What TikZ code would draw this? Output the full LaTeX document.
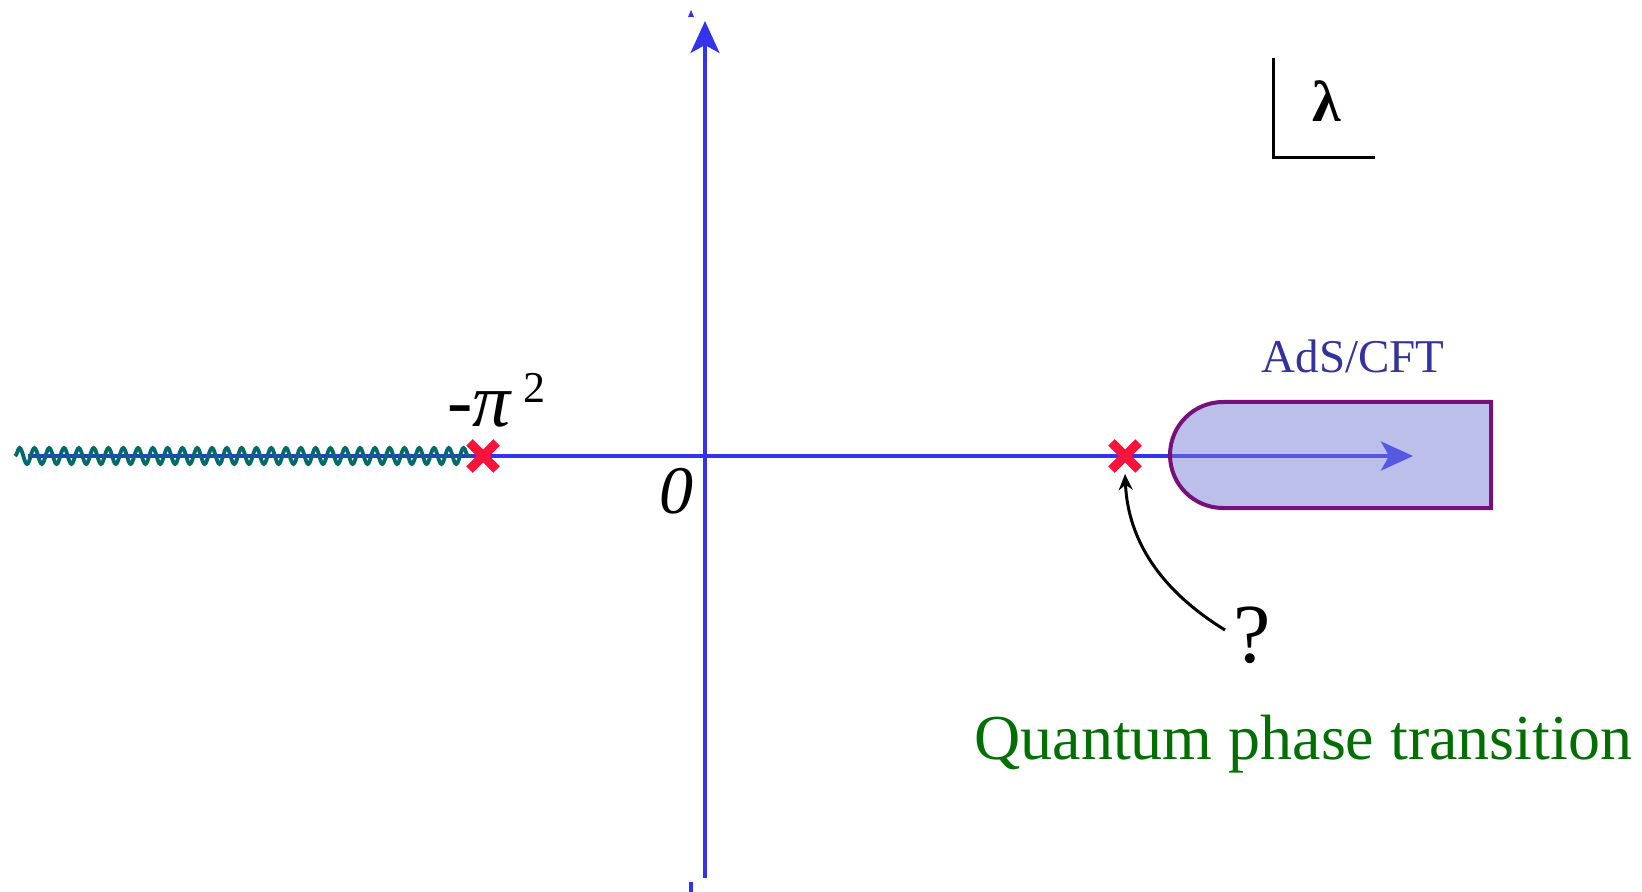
\documentclass[tikz,border=0pt]{standalone}
\usepackage{fontspec}
\setmainfont{Liberation Serif}
\usetikzlibrary{arrows.meta,decorations.pathmorphing,shapes.misc}
\definecolor{axisblue}{RGB}{51,51,238}
\definecolor{wigteal}{RGB}{0,105,105}
\definecolor{xred}{RGB}{250,20,60}
\definecolor{regionfill}{RGB}{119,127,213}
\definecolor{regionborder}{RGB}{119,17,119}
\definecolor{adsblue}{RGB}{51,51,153}
\definecolor{qgreen}{RGB}{0,110,0}
\begin{document}
\begin{tikzpicture}[x=0.5pt,y=-0.5pt,
  axis/.style={draw=axisblue, line width=1.8pt},
  wig/.style={draw=wigteal, line width=1.9pt, decorate, decoration={snake, segment length=7.4pt, amplitude=4pt}},
  xmark/.style={cross out, draw=xred, line width=4.6pt, minimum size=9pt, inner sep=0pt},
  region/.style={fill=regionfill, fill opacity=0.5},
  regionline/.style={draw=regionborder, line width=2pt},
  lbl/.style={inner sep=0pt},
  tipA/.style={-{Stealth[length=16pt,width=14.5pt,inset=4pt]}}
]
\useasboundingbox (0,0) rectangle (1642,892);
% axes
\coordinate (xl) at (28,456);
\coordinate (xr) at (1413,456);
\coordinate (yb) at (705,878);
\coordinate (yt) at (705,21);
\draw[axis, tipA] (xl) -- (xr);
\draw[axis, tipA] (yb) -- (yt);
% stray marks
\fill[axisblue] (691,10) -- (694,17) -- (688,17) -- cycle;
\draw[axisblue, line width=2pt] (691,882) -- (691,892);
% branch cut
\coordinate (wl) at (15,456);
\coordinate (wr) at (470,456);
\draw[wig] (wl) -- (wr);
% AdS/CFT region
\path[region] (1491,402) -- (1223,402) arc (270:90:53) -- (1491,508) -- cycle;
\draw[regionline] (1491,402) -- (1223,402) arc (270:90:53) -- (1491,508) -- cycle;
% crosses
\node[xmark] (m1) at (483,456) {};
\node[xmark] (m2) at (1125,456) {};
% labels
\node[lbl, anchor=base west, font=\fontsize{38}{44}\selectfont\itshape] (pi) at (447,427) {-π\,\raisebox{12pt}{\upshape\fontsize{22}{22}\selectfont 2}};
\node[lbl, anchor=base, font=\fontsize{34}{40}\selectfont\itshape] (zero) at (676,513) {0};
\node[lbl, anchor=base, font=\fontsize{23.5}{28}\selectfont, text=adsblue] (ads) at (1353,373) {AdS/CFT};
\node[lbl, anchor=base, font=\fontsize{42}{50}\selectfont] (q) at (1252,662) {?};
\node[lbl, anchor=base west, font=\fontsize{32}{38}\selectfont, text=qgreen] (qpt) at (974,759) {Quantum phase transition};
\node[lbl, anchor=base, font=\fontsize{29}{34}\selectfont\bfseries] (lam) at (1327,122) {λ};
% lambda corner
\coordinate (ct) at (1273,58);
\coordinate (cc) at (1273,158);
\coordinate (cr) at (1375,158);
\draw[line width=1.5pt] (ct) -- (cc) -- (cr);
% curved arrow
\coordinate (qa) at (1225,630);
\coordinate (qt) at (1125,474);
\draw[line width=1.5pt, -{Stealth[length=8pt,width=7pt]}] (qa) .. controls (1160,590) and (1128,540) .. (qt);
\end{tikzpicture}
\end{document}
